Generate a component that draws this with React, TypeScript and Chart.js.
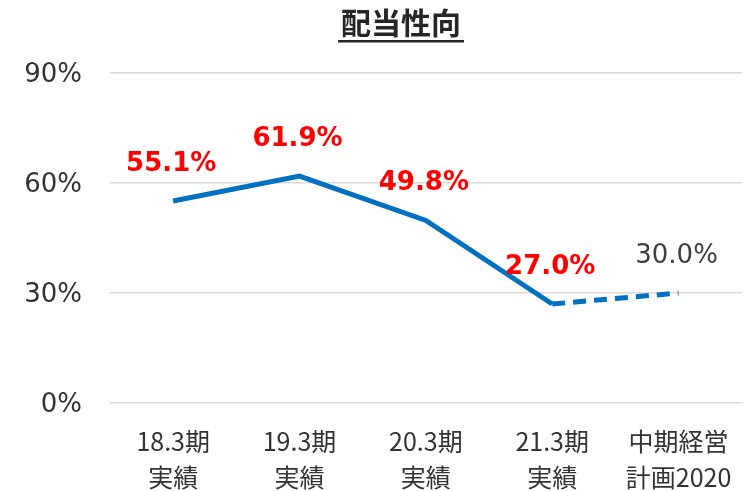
import React, { useEffect, useRef } from "react";
import { Chart, registerables } from "chart.js";

Chart.register(...registerables);

const categories: string[][] = [
  ["18.3期", "実績"],
  ["19.3期", "実績"],
  ["20.3期", "実績"],
  ["21.3期", "実績"],
  ["中期経営", "計画2020"],
];
const payoutRatio: number[] = [55.1, 61.9, 49.8, 27.0, 30.0];
const labelIsPlan: boolean[] = [false, false, false, false, true];
const yTicks: number[] = [0, 30, 60, 90];
const titleText = "配当性向";

const FONT = "'Noto Sans CJK JP', 'DejaVu Sans', sans-serif";
const NUM_FONT = "'DejaVu Sans', 'Noto Sans CJK JP', sans-serif";

const titlePlugin = {
  id: "titleUnderline",
  afterDraw(chart: any) {
    const ctx = chart.ctx;
    ctx.save();
    ctx.font = `bold 30px ${FONT}`;
    ctx.fillStyle = "#262626";
    ctx.textAlign = "center";
    ctx.textBaseline = "middle";
    const cx = 401;
    const cy = 23;
    ctx.fillText(titleText, cx, cy);
    const w = ctx.measureText(titleText).width + 6;
    ctx.fillRect(cx - w / 2, 40, w, 2.5);
    ctx.restore();
  },
};

const labelPlugin = {
  id: "pointLabels",
  afterDatasetsDraw(chart: any) {
    const ctx = chart.ctx;
    const meta = chart.getDatasetMeta(0);
    ctx.save();
    ctx.textAlign = "center";
    ctx.textBaseline = "middle";
    meta.data.forEach((pt: any, i: number) => {
      const v = payoutRatio[i];
      if (labelIsPlan[i]) {
        ctx.font = `26px ${NUM_FONT}`;
        ctx.fillStyle = "#404040";
      } else {
        ctx.font = `bold 26px ${NUM_FONT}`;
        ctx.fillStyle = "#FF0000";
      }
      ctx.fillText(v.toFixed(1) + "%", pt.x - 2, pt.y - 37);
    });
    ctx.restore();
  },
};

export default function App() {
  const ref = useRef<HTMLCanvasElement>(null);
  useEffect(() => {
    if (!ref.current) return;
    const chart = new Chart(ref.current, {
      type: "line",
      data: {
        labels: categories,
        datasets: [
          {
            data: payoutRatio,
            borderColor: "#0070C0",
            borderWidth: 5,
            pointRadius: 0,
            tension: 0,
            fill: false,
            segment: {
              borderDash: (c: any) => (c.p1DataIndex === 4 ? [13, 8] : undefined),
            },
          },
        ],
      },
      options: {
        animation: false,
        responsive: false,
        maintainAspectRatio: false,
        layout: { padding: { top: 73, right: 7, left: 0, bottom: 0 } },
        plugins: {
          legend: { display: false },
          title: { display: false },
          tooltip: { enabled: false },
        },
        scales: {
          x: {
            offset: true,
            grid: { display: false, drawTicks: false },
            border: { display: false },
            ticks: {
              color: "#333333",
              font: { family: FONT, size: 25, lineHeight: 1.44 },
              padding: 20,
              maxRotation: 0,
              autoSkip: false,
            },
            afterFit(scale: any) {
              scale.height = 88;
            },
          },
          y: {
            min: 0,
            max: 90,
            afterBuildTicks(scale: any) {
              scale.ticks = yTicks.map((v) => ({ value: v }));
            },
            grid: { color: "#D9D9D9", lineWidth: 1.5, drawTicks: false },
            border: { display: false },
            ticks: {
              color: "#333333",
              font: { family: NUM_FONT, size: 26 },
              padding: 28,
              labelOffset: 2,
              callback: (v: any) => v + "%",
            },
            afterFit(scale: any) {
              scale.width = 110;
            },
          },
        },
      },
      plugins: [titlePlugin, labelPlugin],
    });
    return () => chart.destroy();
  }, []);
  return (
    <div style={{ position: "fixed", left: 0, top: 0, width: 752, height: 491, background: "#fff" }}>
      <canvas ref={ref} width={752} height={491} style={{ width: 752, height: 491 }} />
    </div>
  );
}
